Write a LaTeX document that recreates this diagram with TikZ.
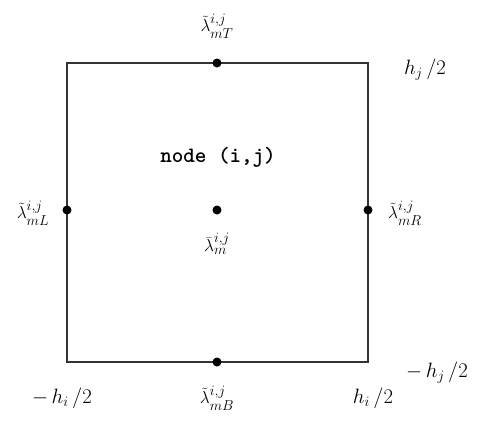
\documentclass[tikz,border=0pt]{standalone}
\usepackage{amsmath}
\begin{document}
\begin{tikzpicture}[x=1pt,y=-1pt,
  dot/.style={circle,fill=black,inner sep=0pt,minimum size=9pt},
  lbl/.style={inner sep=0pt,font=\fontsize{19}{21}\selectfont},
  hlbl/.style={inner sep=0pt,font=\fontsize{22}{24}\selectfont}]
\useasboundingbox (0,0) rectangle (485,421);
\coordinate (BL) at (67,362);
\coordinate (TR) at (368,63);
\draw[line width=1.2pt,black!80] (BL) rectangle (TR);
\node[dot] (T) at (217,63) {};
\node[dot] (L) at (67,210) {};
\node[dot] (R) at (368,210) {};
\node[dot] (B) at (217,362) {};
\node[dot] (C) at (217,210) {};
\node[inner sep=0pt,font=\ttfamily\bfseries\fontsize{22}{24}\selectfont] (nm) at (218,157) {node (i,j)};
\node[lbl] (lt) at (217,26) {$\tilde{\lambda}^{i,j}_{mT}$};
\node[lbl] (ll) at (33,213) {$\tilde{\lambda}^{i,j}_{mL}$};
\node[lbl] (lr) at (405,213) {$\tilde{\lambda}^{i,j}_{mR}$};
\node[lbl] (lc) at (217,244) {$\bar{\lambda}^{i,j}_{m}$};
\node[lbl] (lb) at (217,398) {$\tilde{\lambda}^{i,j}_{mB}$};
\node[hlbl] (hj) at (425,70) {$h_j\,/2$};
\node[hlbl] (mhj) at (437,373) {$-\,h_j\,/2$};
\node[hlbl] (mhi) at (62,398) {$-\,h_i\,/2$};
\node[hlbl] (hi) at (373,398) {$h_i\,/2$};
\end{tikzpicture}
\end{document}
